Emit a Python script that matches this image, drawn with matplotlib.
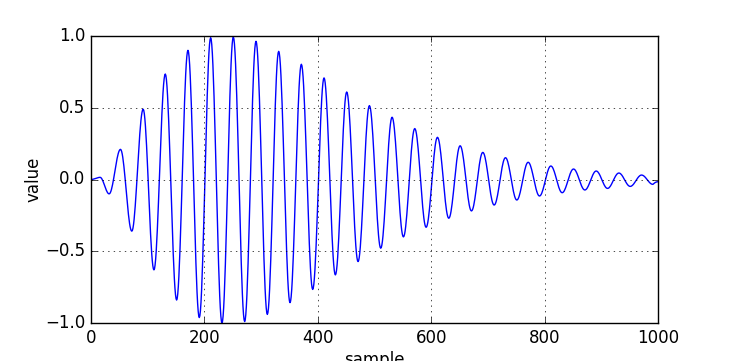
import numpy as np
import matplotlib
matplotlib.use("Agg")
import matplotlib.pyplot as plt

plt.style.use("classic")

# Extrema of the waveform (sample index, value)
ext_samples = [0, 16, 32, 52, 72, 92, 111, 131, 151, 171, 191, 211, 231, 251, 271,
               291, 311, 331, 351, 371, 391, 411, 431, 451, 471, 491, 511, 531, 551,
               571, 591, 611, 631, 651, 671, 691, 711, 731, 751, 771, 791, 811, 831,
               851, 871, 891, 911, 931, 951, 971, 991, 999]
ext_values = [0.0, 0.015, -0.10, 0.21, -0.36, 0.49, -0.63, 0.735, -0.84, 0.90, -0.962,
              0.988, -1.0, 0.993, -0.99, 0.963, -0.94, 0.893, -0.858, 0.803, -0.766,
              0.708, -0.665, 0.61, -0.572, 0.515, -0.479, 0.434, -0.40, 0.355, -0.333,
              0.294, -0.27, 0.235, -0.219, 0.189, -0.178, 0.152, -0.143, 0.12, -0.115,
              0.094, -0.092, 0.073, -0.073, 0.059, -0.062, 0.045, -0.048, 0.031, -0.034,
              -0.016]

# Join consecutive extrema with half-cosine segments
n = np.arange(1000)
y = np.zeros_like(n, dtype=float)
for i in range(len(ext_samples) - 1):
    a, b = ext_samples[i], ext_samples[i + 1]
    va, vb = ext_values[i], ext_values[i + 1]
    m = (n >= a) & (n <= b)
    t = (n[m] - a) / (b - a)
    if i == len(ext_samples) - 2:
        t = np.sin(t * np.pi / 2)  # last partial segment: rising from trough
        y[m] = va + (vb - va) * t
    else:
        y[m] = va + (vb - va) * (1 - np.cos(np.pi * t)) / 2

fig = plt.figure(figsize=(7.32, 3.61), dpi=100)
ax = fig.add_axes([91 / 732, 38 / 361, 567 / 732, 287 / 361])
ax.plot(n, y, color="b", linewidth=1.0)
ax.set_xlim(0, 1000)
ax.set_ylim(-1.0, 1.0)
ax.set_xticks([0, 200, 400, 600, 800, 1000])
ax.set_yticks([-1.0, -0.5, 0.0, 0.5, 1.0])
ax.grid(True)
ax.set_xlabel("sample", labelpad=3)
ax.set_ylabel("value", labelpad=2)
fig.savefig("out.png", dpi=100, facecolor="white")
